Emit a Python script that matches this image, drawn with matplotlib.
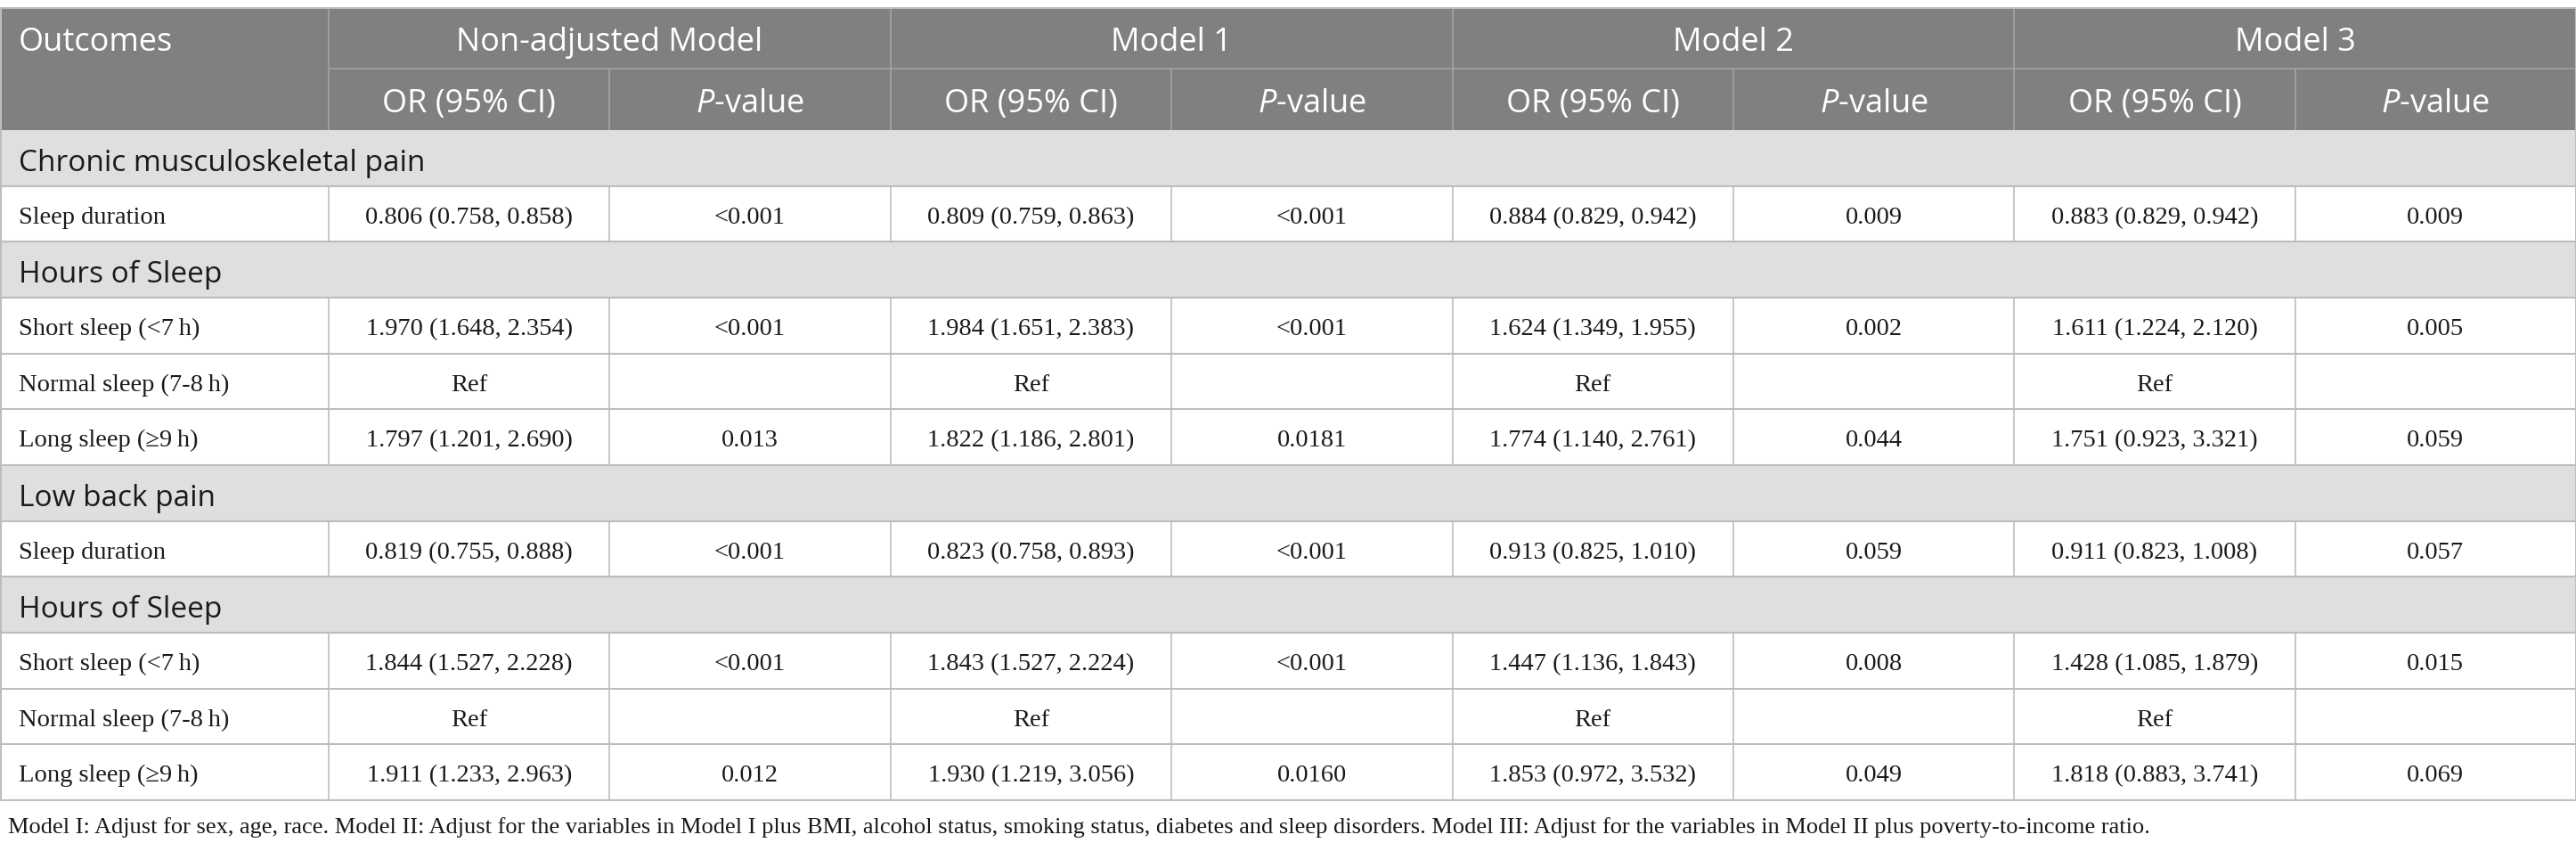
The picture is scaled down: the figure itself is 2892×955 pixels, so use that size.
import matplotlib
matplotlib.use("Agg")
import matplotlib.pyplot as plt
from matplotlib.patches import Rectangle

plt.rcParams['mathtext.fontset'] = 'custom'
plt.rcParams['mathtext.rm'] = 'Open Sans'
plt.rcParams['mathtext.it'] = 'Open Sans:italic'

# ---- data ----
models = ["Non-adjusted Model", "Model 1", "Model 2", "Model 3"]
sub_headers = ["OR (95% CI)", "$\\it{P}$-value"]

row_labels = ["Chronic musculoskeletal pain", "Sleep duration",
              "Hours of Sleep", "Short sleep (<7\u2009h)", "Normal sleep (7-8\u2009h)", "Long sleep (\u22659\u2009h)",
              "Low back pain", "Sleep duration",
              "Hours of Sleep", "Short sleep (<7\u2009h)", "Normal sleep (7-8\u2009h)", "Long sleep (\u22659\u2009h)"]
is_section = [True, False, True, False, False, False, True, False, True, False, False, False]

or_nonadj = ["0.806 (0.758, 0.858)", "1.970 (1.648, 2.354)", "Ref", "1.797 (1.201, 2.690)",
             "0.819 (0.755, 0.888)", "1.844 (1.527, 2.228)", "Ref", "1.911 (1.233, 2.963)"]
p_nonadj = ["<0.001", "<0.001", "", "0.013", "<0.001", "<0.001", "", "0.012"]
or_m1 = ["0.809 (0.759, 0.863)", "1.984 (1.651, 2.383)", "Ref", "1.822 (1.186, 2.801)",
         "0.823 (0.758, 0.893)", "1.843 (1.527, 2.224)", "Ref", "1.930 (1.219, 3.056)"]
p_m1 = ["<0.001", "<0.001", "", "0.0181", "<0.001", "<0.001", "", "0.0160"]
or_m2 = ["0.884 (0.829, 0.942)", "1.624 (1.349, 1.955)", "Ref", "1.774 (1.140, 2.761)",
         "0.913 (0.825, 1.010)", "1.447 (1.136, 1.843)", "Ref", "1.853 (0.972, 3.532)"]
p_m2 = ["0.009", "0.002", "", "0.044", "0.059", "0.008", "", "0.049"]
or_m3 = ["0.883 (0.829, 0.942)", "1.611 (1.224, 2.120)", "Ref", "1.751 (0.923, 3.321)",
         "0.911 (0.823, 1.008)", "1.428 (1.085, 1.879)", "Ref", "1.818 (0.883, 3.741)"]
p_m3 = ["0.009", "0.005", "", "0.059", "0.057", "0.015", "", "0.069"]

footnote = ("Model I: Adjust for sex, age, race. Model II: Adjust for the variables in Model I plus BMI, "
            "alcohol status, smoking status, diabetes and sleep disorders. Model III: Adjust for the "
            "variables in Model II plus poverty-to-income ratio.")

# ---- layout ----
W, H = 2892, 955
top = 9
head_h = 68.5
body_top = top + 2 * head_h
row_h = 62.67
first_w = 369
col_w = (W - first_w) / 8
col_x = [first_w + i * col_w for i in range(9)]

header_bg = "#7f8180"
section_bg = "#e0dfe0"
grid = "#bdbdbd"
head_line = "#a3a5a4"
txt = "#1a1a1a"

sans = "Open Sans"
serif = "Liberation Serif"
fs_head, fs_sec, fs_body, fs_note = 26, 24, 20.5, 19

fig = plt.figure(figsize=(W / 100, H / 100), dpi=100)
ax = fig.add_axes([0, 0, 1, 1])
ax.set_xlim(0, W)
ax.set_ylim(H, 0)
ax.axis("off")

# header
ax.add_patch(Rectangle((0, top), W, 2 * head_h, color=header_bg, lw=0))
ax.text(21, top + 48, "Outcomes", color="white", fontsize=fs_head, family=sans,
        va="baseline", ha="left")
for i, m in enumerate(models):
    x0 = col_x[2 * i]
    ax.text(x0 + col_w, top + 48, m, color="white", fontsize=fs_head, family=sans,
            va="baseline", ha="center")
    for j, s in enumerate(sub_headers):
        ax.text(x0 + col_w * (j + 0.5), top + head_h + 49, s, color="white", fontsize=fs_head,
                family=sans, va="baseline", ha="center")
ax.hlines(top + head_h, first_w, W, color=head_line, lw=1.2)
ax.vlines(col_x[0:8:2], top, top + 2 * head_h, color=head_line, lw=1.2)
ax.vlines(col_x[1:8:2], top + head_h, top + 2 * head_h, color=head_line, lw=1.2)

# body
tables = [or_nonadj, p_nonadj, or_m1, p_m1, or_m2, p_m2, or_m3, p_m3]
k = 0
for r, (lab, sec) in enumerate(zip(row_labels, is_section)):
    y0 = body_top + r * row_h
    if sec:
        ax.add_patch(Rectangle((0, y0), W, row_h, color=section_bg, lw=0))
        ax.text(21, y0 + 46, lab, color=txt, fontsize=fs_sec, family=sans, va="baseline", ha="left")
    else:
        yb = y0 + 42
        ax.text(21, yb, lab, color=txt, fontsize=fs_body, family=serif, va="baseline", ha="left")
        for c, col in enumerate(tables):
            ax.text(col_x[c] + col_w / 2, yb, col[k], color=txt, fontsize=fs_body, family=serif,
                    va="baseline", ha="center")
        ax.vlines(col_x[:8], y0, y0 + row_h, color=grid, lw=1.2)
        k += 1
    ax.hlines(y0 + row_h, 0, W, color=grid, lw=1.5)
ax.hlines(top, 0, W, color=grid, lw=1.5)
bottom = body_top + len(row_labels) * row_h
ax.vlines([0.5, W - 0.5], top, bottom, color=grid, lw=1.5)

ax.text(9, 935, footnote, color=txt, fontsize=fs_note, family=serif, va="baseline", ha="left")

fig.savefig("out.png", dpi=100)
